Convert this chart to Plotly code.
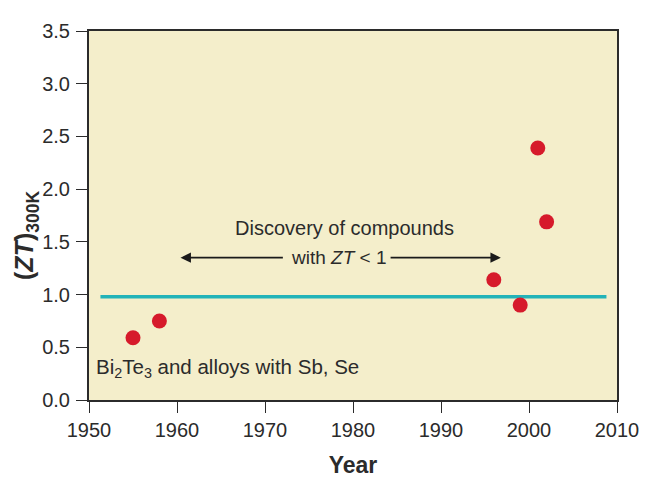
import plotly.graph_objects as go

_RED   = "#D61A2B"
_TEAL  = "#22B3B8"
_CREAM = "#F4EECB"
_INK   = "#2B2B2B"
_FONT  = "Liberation Sans, Arial, sans-serif"

years = [1955, 1958, 1996, 1999, 2001, 2002]
zt_300k = [0.59, 0.75, 1.14, 0.90, 2.39, 1.69]

baseline_years = [1951.3, 2008.8]
baseline_zt = [0.98, 0.98]

x_ticks = [1950, 1960, 1970, 1980, 1990, 2000, 2010]
y_ticks = [0.0, 0.5, 1.0, 1.5, 2.0, 2.5, 3.0, 3.5]

fig = go.Figure()
fig.add_trace(go.Scatter(
    x=baseline_years, y=baseline_zt, mode="lines",
    line=dict(color=_TEAL, width=3.5), hoverinfo="skip",
))
fig.add_trace(go.Scatter(
    x=years, y=zt_300k, mode="markers",
    marker=dict(color=_RED, size=15, line=dict(width=0)),
))

# double arrow broken by the label
arrow_y = 1.35
for tail, head in [(1972.2, 1960.4), (1984.1, 1996.8)]:
    fig.add_annotation(
        x=head, y=arrow_y, ax=tail, ay=arrow_y, xref="x", yref="y",
        axref="x", ayref="y", text="", showarrow=True,
        arrowhead=2, arrowsize=1.3, arrowwidth=1.6, arrowcolor="#1A1A1A",
    )
fig.add_annotation(
    x=1979.0, y=1.63, xref="x", yref="y", text="Discovery of compounds",
    showarrow=False, font=dict(size=20, color=_INK),
)
fig.add_annotation(
    x=1978.4, y=1.35, xref="x", yref="y", text="with <i>ZT</i> &lt; 1",
    showarrow=False, font=dict(size=19, color=_INK),
)
fig.add_annotation(
    x=1950.6, y=0.30, xref="x", yref="y", xanchor="left",
    text="Bi<sub>2</sub>Te<sub>3</sub> and alloys with Sb, Se",
    showarrow=False, font=dict(size=20.5, color=_INK),
)
# y title, set a little below the axis middle as in the source
fig.add_annotation(
    x=-0.119, y=0.445, xref="paper", yref="paper",
    xanchor="center", yanchor="middle", textangle=-90,
    text="<b>(<i>ZT</i>)<sub>300K</sub></b>", borderpad=0,
    showarrow=False, font=dict(size=25, color=_INK),
)

axis_common = dict(
    showgrid=False, zeroline=False, showline=True, mirror=True,
    linecolor=_INK, linewidth=2, ticks="outside", ticklen=11,
    tickwidth=1.3, tickcolor=_INK, automargin=False,
    tickfont=dict(family=_FONT, size=20, color=_INK),
)

# the page body adds 8px around the figure, so the figure is 16px smaller
fig.update_layout(
    width=632, height=487,
    paper_bgcolor="#FFFFFF", plot_bgcolor=_CREAM,
    font=dict(family=_FONT, color=_INK),
    showlegend=False,
    margin=dict(l=81, r=23, t=23, b=95),
    xaxis=dict(
        **axis_common, range=[1950, 2010], tickvals=x_ticks,
        ticklabelstandoff=0,
        title=dict(text="<b>Year</b>", font=dict(size=23, color=_INK), standoff=17),
    ),
    yaxis=dict(
        **axis_common, range=[0, 3.5], tickvals=y_ticks, tickformat=".1f",
        ticklabelstandoff=2,
    ),
)

fig.write_html("out.html")
